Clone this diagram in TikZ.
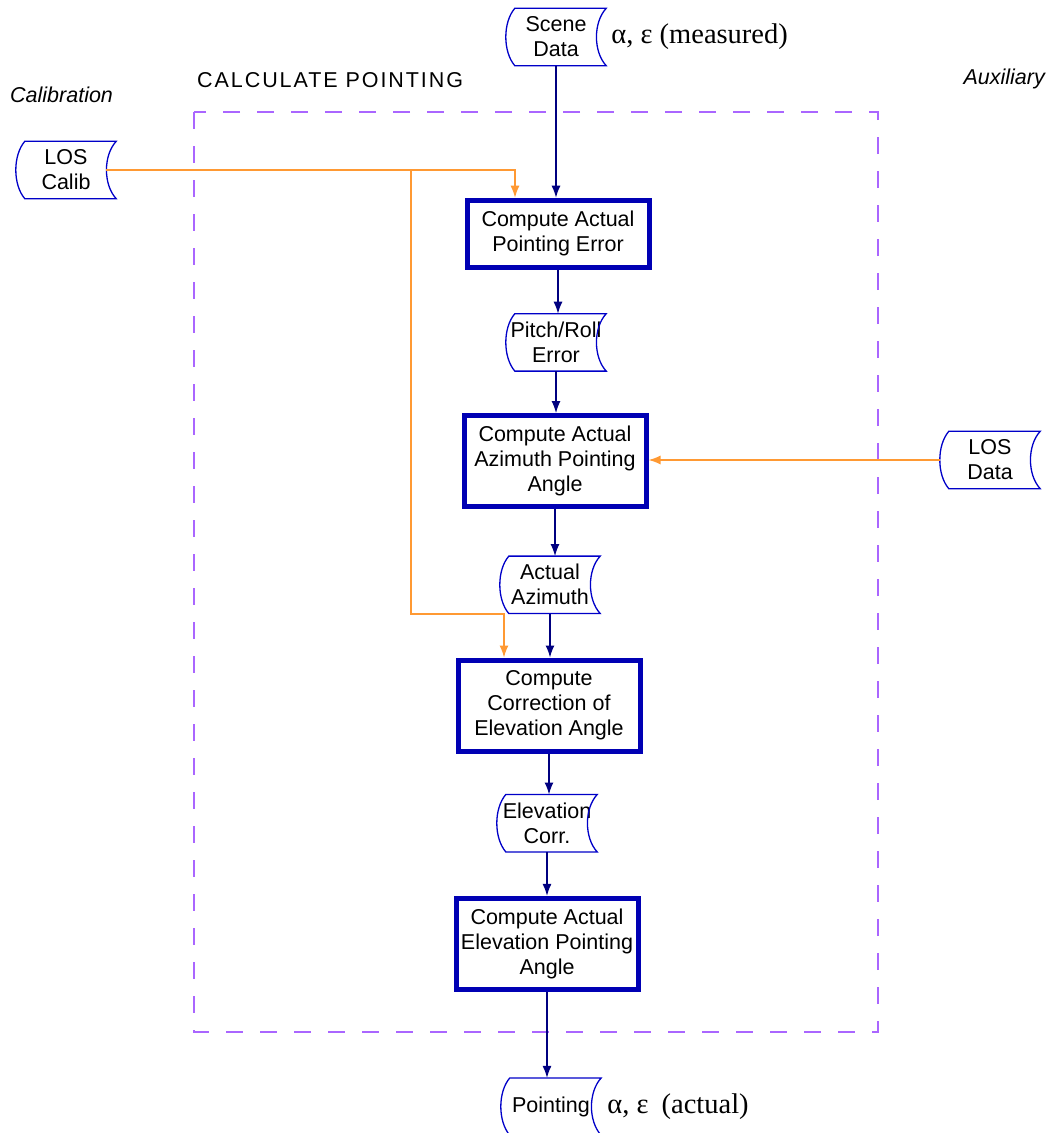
\documentclass[tikz,border=0pt]{standalone}
\usepackage{fontspec}
\setmainfont{Liberation Sans}
\newfontfamily\greekfont{Liberation Serif}
\usepackage{tikz}
\usetikzlibrary{arrows.meta,positioning}

\definecolor{procblue}{RGB}{0,0,180}
\definecolor{flownavy}{RGB}{0,0,128}
\definecolor{storeblue}{RGB}{0,0,200}
\definecolor{calorange}{RGB}{255,153,51}
\definecolor{boundpurple}{RGB}{170,102,255}

\newcommand{\diagfont}{\fontsize{21.5}{25}\selectfont}

\tikzstyle{process}=[
	draw=procblue,
	line width=5pt,
	minimum width=182pt,
	minimum height=91pt,
	inner sep=0pt,
	align=center
]
\tikzstyle{store}=[
	minimum width=100pt,
	minimum height=57pt,
	inner sep=0pt,
	align=center
]
\tikzstyle{storeline}=[
	draw=storeblue,
	line width=1.3pt
]
\tikzstyle{flow}=[
	draw=flownavy,
	line width=1.4pt,
	-{Latex[length=12pt,width=9pt]}
]
\tikzstyle{calline}=[
	draw=calorange,
	line width=1.4pt
]
\tikzstyle{calflow}=[
	calline,
	-{Latex[length=12pt,width=9pt]}
]
\tikzstyle{bound}=[
	draw=boundpurple,
	line width=1.5pt,
	dash pattern=on 17pt off 17pt
]
\tikzstyle{caption}=[
	inner sep=0pt
]
\tikzstyle{angles}=[
	inner sep=0pt,
	font=\greekfont\fontsize{28.5}{30}\selectfont
]

% stored data outline: bulging left side, hollow right side
\newcommand{\storeoutline}[1]{%
  \draw[storeline] ([xshift=9pt]#1.north west) -- (#1.north east)
    .. controls ([xshift=-13pt,yshift=-14pt]#1.north east) and ([xshift=-13pt,yshift=14pt]#1.south east) .. (#1.south east)
    -- ([xshift=9pt]#1.south west)
    .. controls ([xshift=-3pt,yshift=14pt]#1.south west) and ([xshift=-3pt,yshift=-14pt]#1.north west) .. cycle;}

\begin{document}
\begin{tikzpicture}[x=1pt,y=-1pt,font=\diagfont]
\useasboundingbox (0,0) rectangle (1055,1133);

\draw[bound] (194,112) rectangle (878,1032);

\node[caption, anchor=west, font=\diagfont\itshape] (calt) at (10,95) {Calibration};
\node[caption, anchor=east, font=\diagfont\itshape] (auxt) at (1045,79) {Auxiliary};
\node[caption, anchor=west] (calc) at (197,80) {\addfontfeatures{LetterSpace=9}CALCULATE POINTING};

\node[store] (sd) at (556,37) {Scene\\Data};
\node[angles, right=5pt of sd] (meas) {α, ε (measured)};
\node[process, minimum height=67pt, below=132pt of sd, xshift=2pt] (p1) {Compute Actual\\Pointing Error};
\node[store, below=44pt of p1, xshift=-2pt] (pr) {Pitch/Roll\\Error};
\node[process, below=42pt of pr, xshift=-1pt] (p2) {Compute Actual\\Azimuth Pointing\\Angle};
\node[store, below=47pt of p2, xshift=-5pt] (az) {Actual\\Azimuth};
\node[process, below=44pt of az, xshift=-1pt] (p3) {Compute\\Correction of\\Elevation Angle};
\node[store, below=41pt of p3, xshift=-2pt] (ec) {Elevation\\Corr.};
\node[process, below=44pt of ec] (p4) {Compute Actual\\Elevation Pointing\\Angle};
\node[store, below=86pt of p4, xshift=4pt] (pt) {Pointing};
\node[angles, right=6pt of pt] (act) {α, ε\hspace{6pt} (actual)};

\node[store] (calib) at (66,170) {LOS\\Calib};
\node[store] (losd) at (990,460) {LOS\\Data};

\foreach \s in {sd,pr,az,ec,pt,calib,losd} \storeoutline{\s};

\draw[flow] (sd.south) -- (sd.south |- p1.north);
\draw[flow] (p1.south) -- (p1.south |- pr.north);
\draw[flow] (pr.south) -- (pr.south |- p2.north);
\draw[flow] (p2.south) -- (p2.south |- az.north);
\draw[flow] (az.south) -- (az.south |- p3.north);
\draw[flow] (p3.south) -- (p3.south |- ec.north);
\draw[flow] (ec.south) -- (ec.south |- p4.north);
\draw[flow] (p4.south) -- (p4.south |- pt.north);

\coordinate (cjoin) at (411,170);
\coordinate (cturn) at (504,614);
\draw[calline] ([xshift=-10pt]calib.east) -- (cjoin);
\draw[calflow] (cjoin) -| ([xshift=-43pt]p1.north);
\draw[calflow] (cjoin) |- (cturn) -- (cturn |- p3.north);
\draw[calflow] (losd.west) -- (losd.west -| p2.east);

\end{tikzpicture}
\end{document}
